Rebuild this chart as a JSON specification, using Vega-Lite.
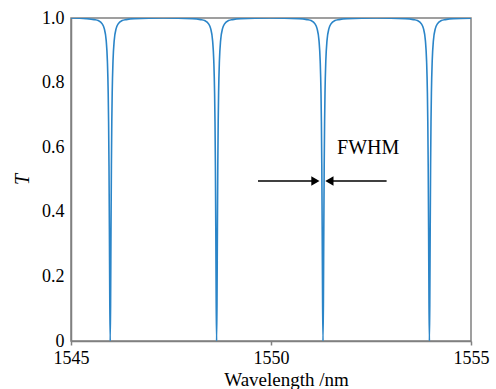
{
  "$schema": "https://vega.github.io/schema/vega-lite/v6.json",
  "width": 400,
  "height": 323,
  "autosize": {"type": "none"},
  "padding": {"left": 71, "top": 18, "right": 25, "bottom": 48},
  "background": "white",
  "config": {
    "view": {"stroke": "#808080", "strokeWidth": 1.5},
    "axis": {
      "grid": false,
      "domainColor": "#808080",
      "domainWidth": 1.5,
      "tickColor": "#808080",
      "tickWidth": 1.5,
      "labelColor": "black",
      "titleColor": "black",
      "titleFontWeight": "normal"
    }
  },
  "datasets": {
    "curve": [
      {"w": 1545.00, "t": 1.0},
      {"w": 1545.38, "t": 0.998}, {"w": 1545.58, "t": 0.995}, {"w": 1545.68, "t": 0.992}, {"w": 1545.78, "t": 0.982}, {"w": 1545.83, "t": 0.968}, {"w": 1545.88, "t": 0.930}, {"w": 1545.91, "t": 0.866}, {"w": 1545.93, "t": 0.768}, {"w": 1545.94, "t": 0.679}, {"w": 1545.95, "t": 0.543}, {"w": 1545.96, "t": 0.346}, {"w": 1545.97, "t": 0.117}, {"w": 1545.98, "t": 0.0}, {"w": 1545.99, "t": 0.117}, {"w": 1546.00, "t": 0.346}, {"w": 1546.01, "t": 0.543}, {"w": 1546.02, "t": 0.679}, {"w": 1546.03, "t": 0.768}, {"w": 1546.05, "t": 0.866}, {"w": 1546.08, "t": 0.930}, {"w": 1546.13, "t": 0.968}, {"w": 1546.18, "t": 0.982}, {"w": 1546.28, "t": 0.992}, {"w": 1546.38, "t": 0.995}, {"w": 1546.58, "t": 0.998},
      {"w": 1547.31, "t": 1.0},
      {"w": 1548.04, "t": 0.998}, {"w": 1548.24, "t": 0.995}, {"w": 1548.34, "t": 0.992}, {"w": 1548.44, "t": 0.982}, {"w": 1548.49, "t": 0.968}, {"w": 1548.54, "t": 0.930}, {"w": 1548.57, "t": 0.866}, {"w": 1548.59, "t": 0.768}, {"w": 1548.60, "t": 0.679}, {"w": 1548.61, "t": 0.543}, {"w": 1548.62, "t": 0.346}, {"w": 1548.63, "t": 0.117}, {"w": 1548.64, "t": 0.0}, {"w": 1548.65, "t": 0.117}, {"w": 1548.66, "t": 0.346}, {"w": 1548.67, "t": 0.543}, {"w": 1548.68, "t": 0.679}, {"w": 1548.69, "t": 0.768}, {"w": 1548.71, "t": 0.866}, {"w": 1548.74, "t": 0.930}, {"w": 1548.79, "t": 0.968}, {"w": 1548.84, "t": 0.982}, {"w": 1548.94, "t": 0.992}, {"w": 1549.04, "t": 0.995}, {"w": 1549.24, "t": 0.998},
      {"w": 1549.97, "t": 1.0},
      {"w": 1550.70, "t": 0.998}, {"w": 1550.90, "t": 0.995}, {"w": 1551.00, "t": 0.992}, {"w": 1551.10, "t": 0.982}, {"w": 1551.15, "t": 0.968}, {"w": 1551.20, "t": 0.930}, {"w": 1551.23, "t": 0.866}, {"w": 1551.25, "t": 0.768}, {"w": 1551.26, "t": 0.679}, {"w": 1551.27, "t": 0.543}, {"w": 1551.28, "t": 0.346}, {"w": 1551.29, "t": 0.117}, {"w": 1551.30, "t": 0.0}, {"w": 1551.31, "t": 0.117}, {"w": 1551.32, "t": 0.346}, {"w": 1551.33, "t": 0.543}, {"w": 1551.34, "t": 0.679}, {"w": 1551.35, "t": 0.768}, {"w": 1551.37, "t": 0.866}, {"w": 1551.40, "t": 0.930}, {"w": 1551.45, "t": 0.968}, {"w": 1551.50, "t": 0.982}, {"w": 1551.60, "t": 0.992}, {"w": 1551.70, "t": 0.995}, {"w": 1551.90, "t": 0.998},
      {"w": 1552.63, "t": 1.0},
      {"w": 1553.36, "t": 0.998}, {"w": 1553.56, "t": 0.995}, {"w": 1553.66, "t": 0.992}, {"w": 1553.76, "t": 0.982}, {"w": 1553.81, "t": 0.968}, {"w": 1553.86, "t": 0.930}, {"w": 1553.89, "t": 0.866}, {"w": 1553.91, "t": 0.768}, {"w": 1553.92, "t": 0.679}, {"w": 1553.93, "t": 0.543}, {"w": 1553.94, "t": 0.346}, {"w": 1553.95, "t": 0.117}, {"w": 1553.96, "t": 0.0}, {"w": 1553.97, "t": 0.117}, {"w": 1553.98, "t": 0.346}, {"w": 1553.99, "t": 0.543}, {"w": 1554.00, "t": 0.679}, {"w": 1554.01, "t": 0.768}, {"w": 1554.03, "t": 0.866}, {"w": 1554.06, "t": 0.930}, {"w": 1554.11, "t": 0.968}, {"w": 1554.16, "t": 0.982}, {"w": 1554.26, "t": 0.992}, {"w": 1554.36, "t": 0.995}, {"w": 1554.56, "t": 0.998},
      {"w": 1555.00, "t": 0.999}
    ],
    "arrows": [
      {"w": 1549.675, "w2": 1551.12, "t": 0.495},
      {"w": 1552.89, "w2": 1551.45, "t": 0.495}
    ],
    "heads": [
      {"w": 1551.11, "t": 0.495, "dir": "right"},
      {"w": 1551.46, "t": 0.495, "dir": "left"}
    ],
    "label": [
      {"w": 1552.43, "t": 0.597, "text": "FWHM"}
    ]
  },
  "encoding": {
    "x": {
      "field": "w", "type": "quantitative",
      "scale": {"domain": [1545, 1555], "nice": false, "zero": false},
      "axis": {
        "values": [1545, 1550, 1555],
        "format": "d",
        "labelFont": "Liberation Serif",
        "labelFontSize": 18,
        "title": "Wavelength /nm",
        "titleFont": "Liberation Serif",
        "titleFontSize": 19,
        "titleX": 215,
        "titleY": 38,
        "titleBaseline": "middle",
        "ticks": true,
        "tickSize": 4,
        "labelPadding": 4.5,
        "labelFlush": false
      }
    },
    "y": {
      "field": "t", "type": "quantitative",
      "scale": {"domain": [0, 1], "nice": false},
      "axis": {
        "values": [0, 0.2, 0.4, 0.6, 0.8, 1.0],
        "labelExpr": "datum.value === 0 ? '0' : format(datum.value, '.1f')",
        "labelFont": "Liberation Serif",
        "labelFontSize": 18,
        "title": "T",
        "titleFont": "Liberation Serif",
        "titleFontStyle": "italic",
        "titleFontSize": 20,
        "titleX": -49,
        "titleY": 161,
        "titleBaseline": "middle",
        "ticks": false,
        "labelPadding": 7,
        "labelFlush": false
      }
    }
  },
  "layer": [
    {
      "data": {"name": "curve"},
      "mark": {"type": "line", "color": "#2b85c8", "strokeWidth": 1.6, "interpolate": "monotone", "clip": true}
    },
    {
      "data": {"name": "arrows"},
      "mark": {"type": "rule", "color": "black", "strokeWidth": 1.5},
      "encoding": {
        "x2": {"field": "w2"}
      }
    },
    {
      "data": {"name": "heads"},
      "mark": {"type": "point", "filled": true, "color": "black", "opacity": 1, "size": 90},
      "encoding": {
        "shape": {
          "field": "dir", "type": "nominal",
          "scale": {"domain": ["right", "left"], "range": ["triangle-right", "triangle-left"]},
          "legend": null
        }
      }
    },
    {
      "data": {"name": "label"},
      "mark": {"type": "text", "font": "Liberation Serif", "fontSize": 20, "color": "black", "align": "center", "baseline": "middle"},
      "encoding": {
        "text": {"field": "text"}
      }
    }
  ]
}
